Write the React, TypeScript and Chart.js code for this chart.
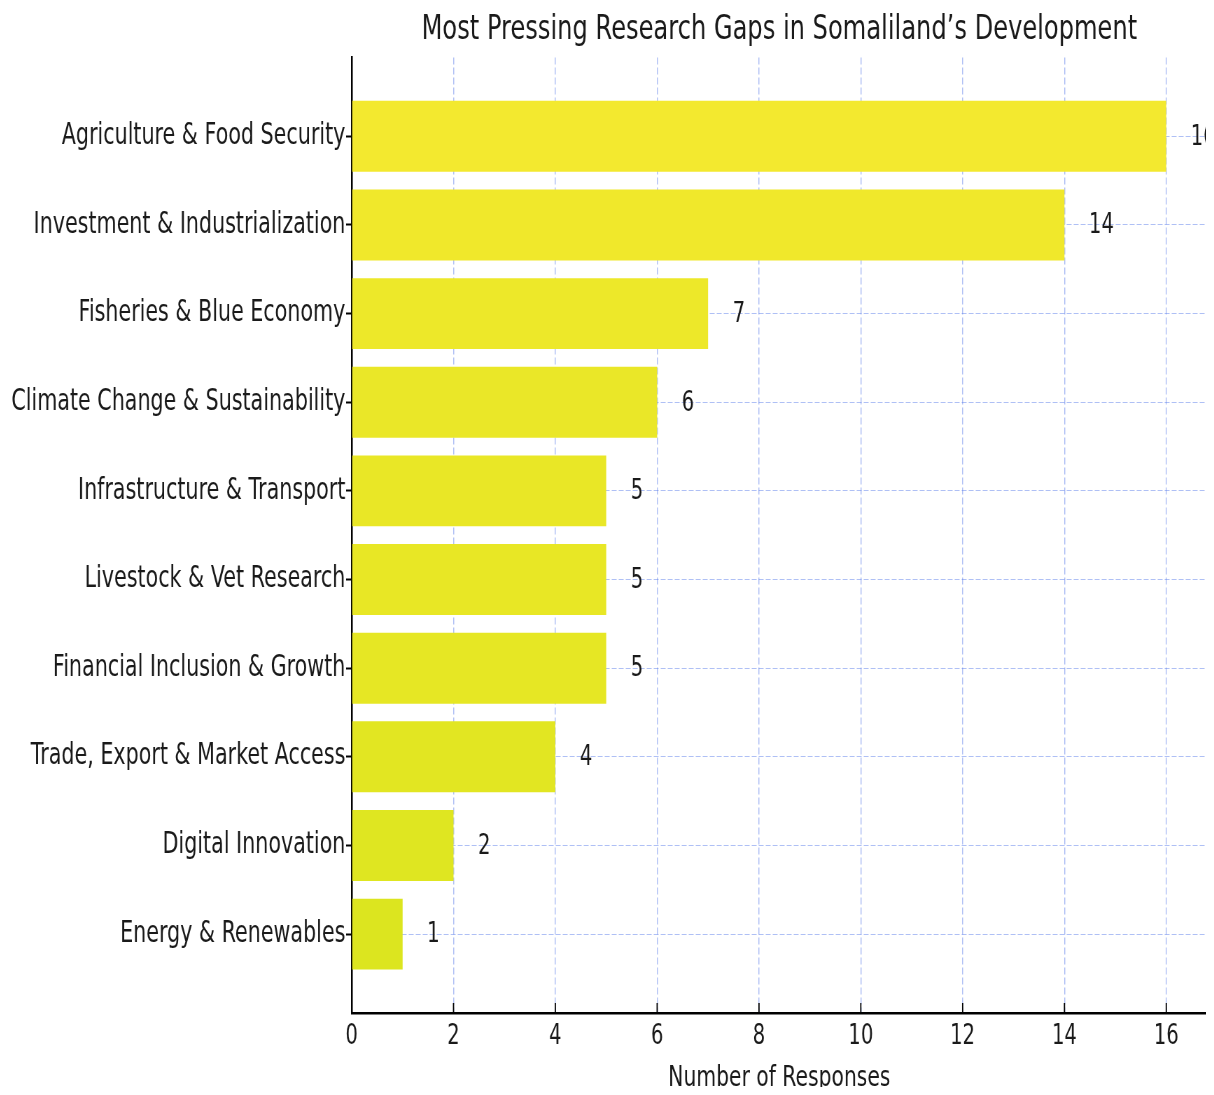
import React, { useEffect, useRef } from 'react';
import { Chart, registerables } from 'chart.js';

Chart.register(...registerables);

// ---- data ----
const CATEGORIES = [
  'Agriculture & Food Security',
  'Investment & Industrialization',
  'Fisheries & Blue Economy',
  'Climate Change & Sustainability',
  'Infrastructure & Transport',
  'Livestock & Vet Research',
  'Financial Inclusion & Growth',
  'Trade, Export & Market Access',
  'Digital Innovation',
  'Energy & Renewables',
];
const RESPONSES = [16, 14, 7, 6, 5, 5, 5, 4, 2, 1];
const X_TICKS = [0, 2, 4, 6, 8, 10, 12, 14, 16];
const TITLE = 'Most Pressing Research Gaps in Somaliland\u2019s Development';
const X_TITLE = 'Number of Responses';

// ---- style ----
const BAR_COLORS = [
  '#f3e92f', '#f0e82b', '#ede829', '#eae728', '#e9e726',
  '#e8e725', '#e6e724', '#e2e622', '#dfe621', '#dce51f',
];
const FONT = "'DejaVu Sans', 'Liberation Sans', sans-serif";
const TEXT = '#1a1a1a';
const GRID = 'rgba(95,130,235,0.5)';
const SX = 0.7; // horizontal compression of the whole figure
const CSS_W = 1206;
const CSS_H = 1087;
const W = Math.round(CSS_W / SX);

export default function App() {
  const ref = useRef<HTMLCanvasElement | null>(null);

  useEffect(() => {
    const canvas = ref.current;
    if (!canvas) return;

    const overlay = {
      id: 'overlay',
      afterDraw(chart: any) {
        const ctx = chart.ctx;
        const meta = chart.getDatasetMeta(0);
        ctx.save();
        ctx.font = `28px ${FONT}`;
        ctx.fillStyle = TEXT;
        ctx.textAlign = 'left';
        ctx.textBaseline = 'middle';
        meta.data.forEach((bar: any, i: number) => {
          ctx.fillText(String(RESPONSES[i]), bar.x + 35, bar.y + 1);
        });
        const xs = chart.scales.x;
        const b = chart.chartArea.bottom;
        ctx.strokeStyle = '#000';
        ctx.lineWidth = 1.8;
        X_TICKS.forEach((v) => {
          const px = xs.getPixelForValue(v);
          ctx.beginPath();
          ctx.moveTo(px, b);
          ctx.lineTo(px, b - 10);
          ctx.stroke();
        });
        ctx.restore();
      },
    };

    const chart = new Chart(canvas, {
      type: 'bar',
      data: {
        datasets: [
          {
            data: RESPONSES.map((v, i) => ({ x: v, y: i })),
            backgroundColor: BAR_COLORS,
            borderWidth: 0,
            barPercentage: 0.8,
            categoryPercentage: 1,
          },
        ],
      },
      options: {
        indexAxis: 'y',
        animation: false,
        responsive: false,
        devicePixelRatio: 1,
        layout: { padding: { left: 0, top: 0, bottom: 0, right: 10 } },
        plugins: {
          legend: { display: false },
          tooltip: { enabled: false },
          title: {
            display: true,
            text: TITLE,
            fullSize: false,
            color: TEXT,
            font: { family: FONT, size: 34.5, weight: 'normal' },
            padding: { top: 1, bottom: 7 },
          },
        },
        scales: {
          x: {
            type: 'linear',
            position: 'bottom',
            min: 0,
            max: 16.8,
            z: 1,
            afterBuildTicks: (s: any) => {
              s.ticks = X_TICKS.map((v) => ({ value: v }));
            },
            afterFit: (s: any) => {
              s.height = 82;
            },
            ticks: {
              color: TEXT,
              font: { family: FONT, size: 28 },
              padding: 7,
            },
            grid: { color: GRID, lineWidth: 1.5, drawTicks: false },
            border: { display: true, color: '#000', width: 2.5, dash: [7, 3] },
            title: {
              display: true,
              text: X_TITLE,
              color: TEXT,
              font: { family: FONT, size: 29 },
              padding: { top: 0, bottom: -1 },
            },
          },
          y: {
            type: 'linear',
            position: 'left',
            reverse: true,
            offset: false,
            min: -0.89,
            max: 9.89,
            z: 1,
            afterBuildTicks: (s: any) => {
              s.ticks = CATEGORIES.map((_, i) => ({ value: i }));
            },
            afterFit: (s: any) => {
              s.width = 491;
            },
            ticks: {
              autoSkip: false,
              color: TEXT,
              font: { family: FONT, size: 29.5 },
              padding: 1,
              callback: (v: any) => CATEGORIES[v as number],
            },
            grid: {
              offset: false,
              color: GRID,
              lineWidth: 1,
              tickColor: '#000',
              tickLength: 8,
              tickWidth: 2,
            },
            border: { display: true, color: '#000', width: 2.5, dash: [7, 3] },
          },
        },
      },
      plugins: [overlay],
    } as any);

    return () => chart.destroy();
  }, []);

  return (
    <canvas
      ref={ref}
      width={W}
      height={CSS_H}
      style={{ display: 'block', width: CSS_W, height: CSS_H, marginBottom: -8 }}
    />
  );
}
